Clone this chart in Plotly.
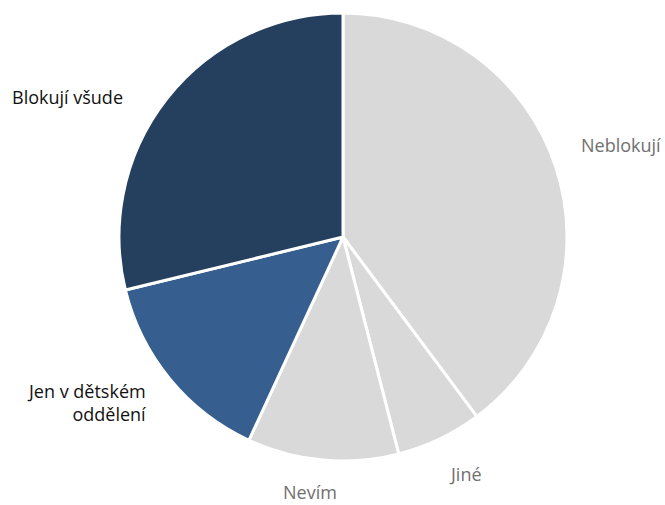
import plotly.graph_objects as go

categories = ["Neblokují", "Jiné", "Nevím", "Jen v dětském oddělení", "Blokují všude"]
values = [39.8, 6.2, 10.9, 14.3, 28.8]
colors = ["#d9d9d9", "#d9d9d9", "#d9d9d9", "#365f8f", "#253f5e"]

W, H = 665, 505
cx, cy, r = 343, 237, 224

fig = go.Figure(go.Pie(
    labels=categories, values=values, sort=False, direction="clockwise", rotation=0,
    marker=dict(colors=colors, line=dict(color="white", width=3)),
    textinfo="none", hoverinfo="label+percent", showlegend=False,
    domain=dict(x=[(cx - r) / W, (cx + r) / W], y=[(H - cy - r) / H, (H - cy + r) / H]),
))

font = "Open Sans, Segoe UI, sans-serif"
labels = [
    ("Blokují všude", 10, 97, "left", "#111111"),
    ("Jen v dětském<br>oddělení", 148, 402, "right", "#111111"),
    ("Neblokují", 663, 145, "right", "#707070"),
    ("Jiné", 484, 474, "right", "#707070"),
    ("Nevím", 339, 492, "right", "#707070"),
]
anns = []
for text, x, y, align, col in labels:
    anns.append(dict(text=text, x=x / W, y=1 - y / H, xref="paper", yref="paper",
                     xanchor=align, yanchor="middle", align=align, showarrow=False,
                     font=dict(family=font, size=18, color=col)))

fig.update_layout(width=W, height=H, margin=dict(l=0, r=0, t=0, b=0),
                  paper_bgcolor="white", plot_bgcolor="white", annotations=anns)
fig.write_html("out.html", config={"displayModeBar": False},
               post_script="document.body.style.margin='0';document.body.style.overflow='hidden';")
